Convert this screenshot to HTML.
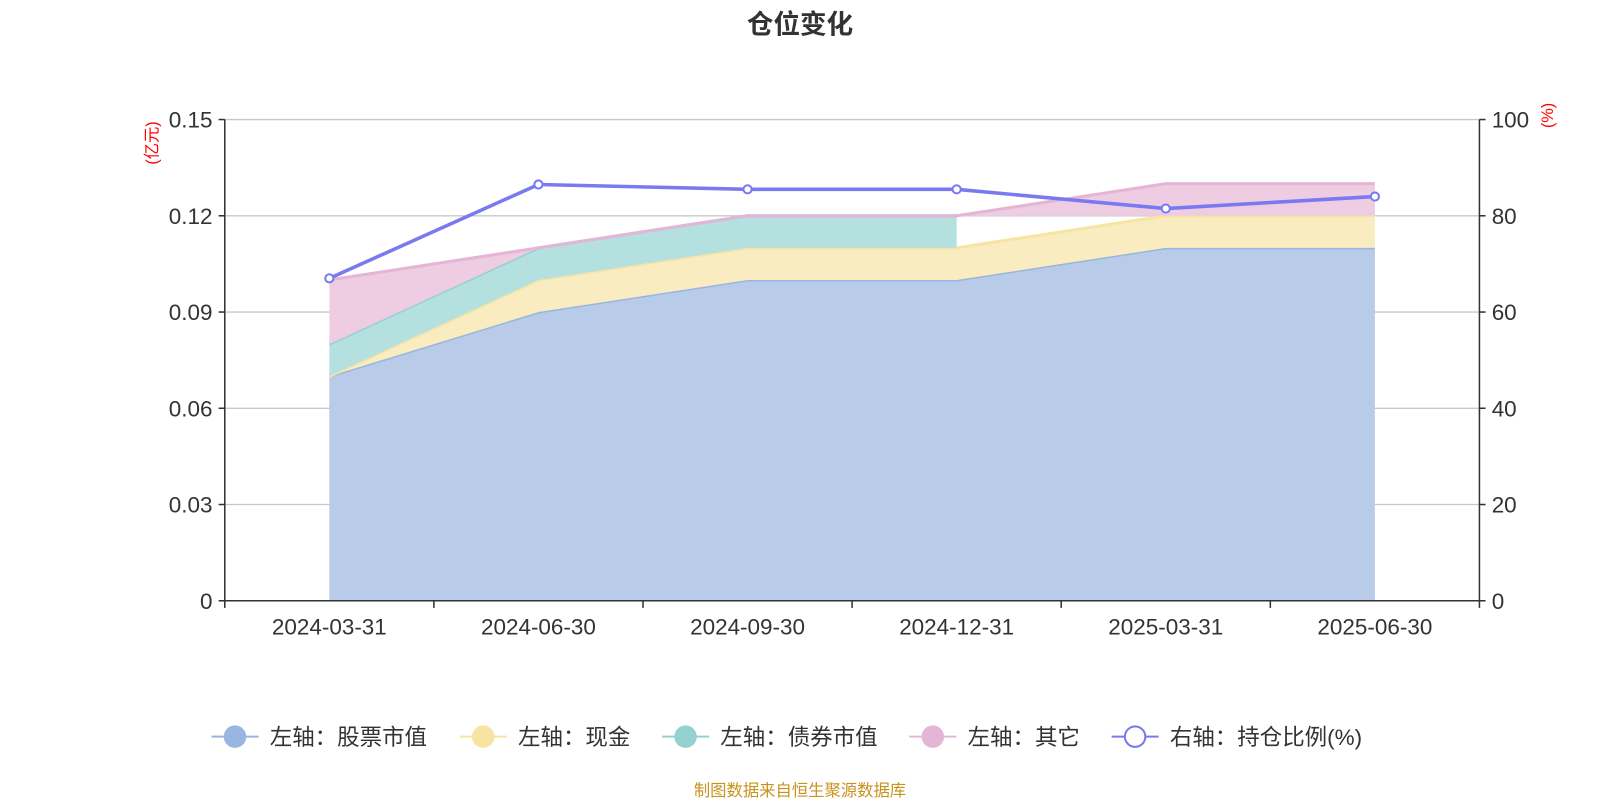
<!DOCTYPE html>
<html><head><meta charset="utf-8"><style>
body{margin:0;background:#fff;width:1600px;height:800px;overflow:hidden;font-family:"Liberation Sans","Noto Sans CJK SC",sans-serif}
</style></head><body>
<svg id="c" width="1600" height="800" viewBox="0 0 1566 783" preserveAspectRatio="none" xmlns="http://www.w3.org/2000/svg" style="font-family:'Liberation Sans','Noto Sans CJK SC',sans-serif">
<text x="783" y="33" text-anchor="middle" font-size="26" font-weight="bold" fill="#333">仓位变化</text>
<text x="783" y="779" text-anchor="middle" font-size="16" fill="#c8921e">制图数据来自恒生聚源数据库</text>
</svg>
<script>
const categories=["2024-03-31","2024-06-30","2024-09-30","2024-12-31","2025-03-31","2025-06-30"];
const stock=[0.07,0.09,0.10,0.10,0.11,0.11];
const cash=[0.00,0.01,0.01,0.01,0.01,0.01];
const bond=[0.01,0.01,0.01,0.01,null,null];
const other=[0.02,0,0,0,0.01,0.01];
const ratio=[67,86.5,85.5,85.5,81.5,84];
const leftTicks=[0,0.03,0.06,0.09,0.12,0.15];
const rightTicks=[0,20,40,60,80,100];
const L=220,R=1448,T=117,B=588,N=categories.length,bw=(R-L)/N;
const xs=i=>L+bw*(i+0.5);
const yl=v=>B-(v/0.15)*(B-T);
const yr=v=>B-(v/100)*(B-T);
const svg=document.getElementById('c');const NS='http://www.w3.org/2000/svg';
function mk(t,a,p){const e=document.createElementNS(NS,t);for(const k in a)e.setAttribute(k,a[k]);(p||svg).appendChild(e);return e;}
leftTicks.forEach((v,i)=>{
 const g=mk('line',{x1:L,x2:R,y1:yl(v),y2:yl(v),stroke:i==0?'none':'#c8c8c8','stroke-width':1.3});
 
 
 const t=mk('text',{x:L-12,y:yl(v)+8,'text-anchor':'end','font-size':22,fill:'#333'});t.textContent=v===0?'0':v.toFixed(2);
 
 
 mk('line',{x1:L-6,x2:L,y1:yl(v),y2:yl(v),stroke:'#333','stroke-width':1.5});
});
rightTicks.forEach(v=>{
 const t=mk('text',{x:R+12,y:yr(v)+8,'font-size':22,fill:'#333'});t.textContent=v;
 
 
 mk('line',{x1:R,x2:R+6,y1:yr(v),y2:yr(v),stroke:'#333','stroke-width':1.5});
});
const series=[[stock,'#b8cbe9','#9ab5e0'],[cash,'#f8ecc0','#f7e4a3'],[bond,'#b5e0e0','#96d1d1'],[other,'#eecde3','#e5b5d6']];
const names=['area-stock','area-cash','area-bond','area-other'];
let base=categories.map(()=>0);
series.forEach((s,si)=>{
 const d=s[0];const idx=[];const bot=[],top=[];
 d.forEach((v,i)=>{if(v!==null){idx.push(i);bot.push(base[i]);top.push(base[i]+v);}});
 let pts=idx.map((i,k)=>xs(i)+','+yl(top[k])).join(' ')+' '+idx.slice().reverse().map((i,k)=>xs(i)+','+yl(bot[bot.length-1-k])).join(' ');
 const p=mk('polygon',{points:pts,fill:s[1]});
 
 
 const l=mk('polyline',{points:idx.map((i,k)=>xs(i)+','+yl(top[k])).join(' '),fill:'none',stroke:s[2],'stroke-width':3});
 
 
 idx.forEach((i,k)=>base[i]=top[k]);
});
mk('line',{x1:L,x2:L,y1:T,y2:B,stroke:'#333','stroke-width':1.5});
mk('line',{x1:R,x2:R,y1:T,y2:B,stroke:'#333','stroke-width':1.5});
mk('line',{x1:L,x2:R,y1:B,y2:B,stroke:'#333','stroke-width':1.5});
for(let i=0;i<=N;i++)mk('line',{x1:L+bw*i,x2:L+bw*i,y1:B,y2:B+7,stroke:'#333','stroke-width':1.5});
categories.forEach((c,i)=>{const t=mk('text',{x:xs(i),y:621,'text-anchor':'middle','font-size':22,fill:'#333'});t.textContent=c;
 
 });
const rl=mk('polyline',{points:ratio.map((v,i)=>xs(i)+','+yr(v)).join(' '),fill:'none',stroke:'#7a7af0','stroke-width':3.5});


ratio.forEach((v,i)=>{const c=mk('circle',{cx:xs(i),cy:yr(v),r:4,fill:'#fff',stroke:'#7a7af0','stroke-width':2});
 
 });
const u1=mk('text',{transform:'translate(154,140) rotate(-90)','text-anchor':'middle','font-size':16,fill:'red'});u1.textContent='(亿元)';


const u2=mk('text',{transform:'translate(1520,113) rotate(-90)','text-anchor':'middle','font-size':16,fill:'red'});u2.textContent='(%)';


const leg=[['左轴：股票市值','#9ab5e0',207,false],['左轴：现金','#f7e4a3',450,false],['左轴：债券市值','#96d1d1',648,false],['左轴：其它','#e5b5d6',890,false],['右轴：持仓比例(%)','#7a7af0',1088,true]];
leg.forEach(e=>{const g=mk('g',{});
 
 
 mk('line',{x1:e[2],x2:e[2]+46,y1:721,y2:721,stroke:e[1],'stroke-width':2},g);
 mk('circle',{cx:e[2]+23,cy:721,r:e[3]?10:11,fill:e[3]?'#fff':e[1],stroke:e[1],'stroke-width':e[3]?2:0},g);
 const t=mk('text',{x:e[2]+57,y:729,'font-size':22,fill:'#333'},g);t.textContent=e[0];});
</script>
</body></html>
